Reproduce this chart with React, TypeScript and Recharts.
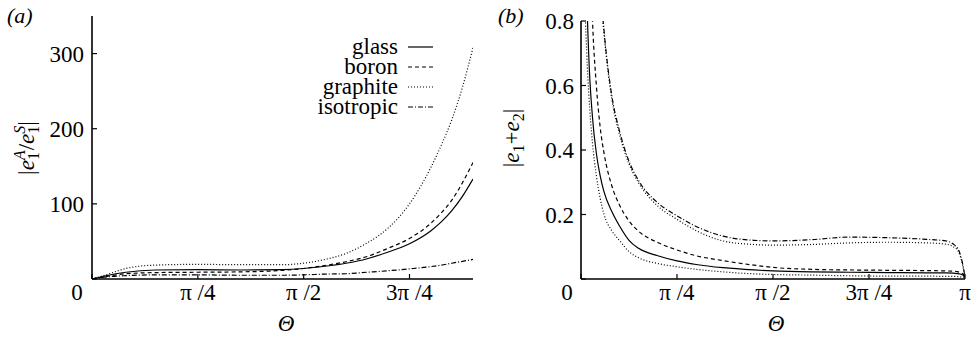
import React from 'react';
import { LineChart, Line, XAxis, YAxis } from 'recharts';

const FONT = 'Times New Roman, Liberation Serif, serif';
const FS = 23;

// Θ is given in units of π
const thetaA = [0, 0.03, 0.08, 0.15, 0.25, 0.35, 0.45, 0.5, 0.55, 0.6, 0.65, 0.7, 0.75, 0.8, 0.825, 0.85, 0.875, 0.9];
const glassA = [0, 4, 9, 12, 12.5, 12, 12.5, 14, 17, 21, 27, 36, 47, 64, 76, 91, 110, 133];
const boronA = [0, 3, 7, 8.5, 9, 9.5, 11.5, 14, 18, 23, 30, 41, 54, 74, 88, 105, 128, 155];
const graphiteA = [0, 5, 14, 18.5, 19.5, 19, 19, 21, 26, 34, 48, 68, 100, 148, 178, 212, 255, 308];
const isotropicA = [0, 2.5, 4.5, 5.5, 5.5, 5, 5, 5.5, 6.5, 7, 9, 11, 13.5, 16.5, 18.5, 21, 23.5, 26];

const thetaB = [0.005, 0.01, 0.015, 0.02, 0.03, 0.04, 0.05, 0.06, 0.08, 0.1, 0.125, 0.15, 0.2, 0.25, 0.3, 0.37, 0.45, 0.5, 0.6, 0.7, 0.8, 0.9, 0.95, 0.97, 0.985, 0.995, 1.0];
const glassB = [3, 1.4, 0.9, 0.7, 0.5, 0.39, 0.32, 0.27, 0.21, 0.165, 0.12, 0.095, 0.072, 0.056, 0.045, 0.035, 0.028, 0.025, 0.022, 0.021, 0.02, 0.019, 0.019, 0.018, 0.016, 0.012, 0.006];
const boronB = [4.5, 2.3, 1.55, 1.2, 0.8, 0.6, 0.47, 0.39, 0.29, 0.23, 0.18, 0.148, 0.113, 0.09, 0.072, 0.057, 0.043, 0.036, 0.03, 0.028, 0.027, 0.026, 0.025, 0.024, 0.021, 0.015, 0.006];
const graphiteB = [1.8, 0.9, 0.7, 0.58, 0.42, 0.32, 0.25, 0.2, 0.15, 0.12, 0.085, 0.066, 0.048, 0.038, 0.03, 0.022, 0.016, 0.014, 0.012, 0.01, 0.009, 0.009, 0.008, 0.008, 0.007, 0.006, 0.004];
const isotropicB = [8, 4.5, 3, 2.3, 1.5, 1.15, 0.92, 0.77, 0.57, 0.46, 0.365, 0.305, 0.236, 0.196, 0.163, 0.133, 0.12, 0.118, 0.122, 0.13, 0.128, 0.123, 0.118, 0.108, 0.085, 0.04, 0.005];
const dottedUpperB = [7.9, 4.45, 2.95, 2.27, 1.48, 1.13, 0.9, 0.76, 0.56, 0.45, 0.357, 0.298, 0.226, 0.185, 0.15, 0.118, 0.107, 0.105, 0.107, 0.112, 0.114, 0.112, 0.108, 0.1, 0.08, 0.036, 0.004];

const xTicksA = [0, 0.25, 0.5, 0.75];
const xLabelsA = ['0', 'π /4', 'π /2', '3π /4'];
const xTicksB = [0, 0.25, 0.5, 0.75, 1];
const xLabelsB = ['0', 'π /4', 'π /2', '3π /4', 'π'];
const yTicksA = [0, 100, 200, 300];
const yTicksB = [0, 0.2, 0.4, 0.6, 0.8];

const legendNames = ['glass', 'boron', 'graphite', 'isotropic'];

const rowsA = thetaA.map((t, i) => ({
  t,
  glass: glassA[i],
  boron: boronA[i],
  graphite: graphiteA[i],
  isotropic: isotropicA[i],
}));

const rowsB = thetaB.map((t, i) => ({
  t,
  glass: glassB[i],
  boron: boronB[i],
  graphite: graphiteB[i],
  isotropic: isotropicB[i],
  upper: dottedUpperB[i],
}));

const DASH: Record<string, string | undefined> = {
  glass: undefined,
  boron: '4 3',
  graphite: '1 2',
  isotropic: '5 2 1 2',
  upper: '1 2',
};

const txtStyle = { fontFamily: FONT, fontSize: FS, fill: '#000' };
const italic = { ...txtStyle, fontStyle: 'italic' as const };

const makeXTick = (ticks: number[], labels: string[], zeroShift: number) => (props: any) => {
  const { x, y, payload } = props;
  const i = ticks.indexOf(payload.value);
  const label = i >= 0 ? labels[i] : '';
  return (
    <text x={payload.value === 0 ? x + zeroShift : x} y={y + 16} textAnchor="middle" style={txtStyle}>
      {label}
    </text>
  );
};

const makeYTick = (fmt: (v: number) => string) => (props: any) => {
  const { x, y, payload } = props;
  if (payload.value === 0) return <g />;
  return (
    <text x={x} y={y + 8} textAnchor="end" style={txtStyle}>
      {fmt(payload.value)}
    </text>
  );
};

const axisLine = { stroke: '#000', strokeWidth: 1.6 };
const tickLine = { stroke: '#000', strokeWidth: 1.2 };

const series = (keys: string[]) =>
  keys.map((k) => (
    <Line
      key={k}
      dataKey={k}
      type="monotone"
      stroke="#000"
      strokeWidth={1.2}
      strokeDasharray={DASH[k]}
      dot={false}
      activeDot={false}
      isAnimationActive={false}
    />
  ));

const frameAxes = (xDomain: number[], xTicks: number[], yDomain: number[], yTicks: number[]) => [
  <XAxis
    key="xt"
    xAxisId="top"
    orientation="top"
    type="number"
    domain={xDomain}
    ticks={xTicks}
    height={0}
    tick={false}
    tickSize={-5}
    axisLine={axisLine}
    tickLine={tickLine}
    allowDataOverflow
  />,
  <YAxis
    key="yr"
    yAxisId="right"
    orientation="right"
    type="number"
    domain={yDomain}
    ticks={yTicks}
    width={0}
    tick={false}
    tickSize={-5}
    axisLine={axisLine}
    tickLine={tickLine}
    allowDataOverflow
  />,
];

const PanelA = () => (
  <LineChart width={490} height={337} data={rowsA} margin={{ top: 16, right: 17, bottom: 0, left: 0 }}>
    <XAxis
      dataKey="t"
      type="number"
      domain={[0, 0.9]}
      ticks={xTicksA}
      interval={0}
      height={58}
      tickSize={-5}
      tickMargin={10}
      axisLine={axisLine}
      tickLine={tickLine}
      tick={makeXTick(xTicksA, xLabelsA, -15)}
      allowDataOverflow
    />
    <YAxis
      type="number"
      domain={[0, 350]}
      ticks={yTicksA}
      interval={0}
      width={92}
      tickSize={-5}
      tickMargin={13}
      axisLine={axisLine}
      tickLine={tickLine}
      tick={makeYTick((v) => String(v))}
      allowDataOverflow
    />
    {frameAxes([0, 0.9], xTicksA, [0, 350], yTicksA)}
    {series(['glass', 'boron', 'graphite', 'isotropic'])}
  </LineChart>
);

const PanelB = () => (
  <LineChart width={489} height={337} data={rowsB} margin={{ top: 21, right: 14, bottom: 0, left: 0 }}>
    <XAxis
      dataKey="t"
      type="number"
      domain={[0, 1]}
      ticks={xTicksB}
      interval={0}
      height={58}
      tickSize={-5}
      tickMargin={10}
      axisLine={axisLine}
      tickLine={tickLine}
      tick={makeXTick(xTicksB, xLabelsB, -14)}
      allowDataOverflow
    />
    <YAxis
      type="number"
      domain={[0, 0.8]}
      ticks={yTicksB}
      interval={0}
      width={91}
      tickSize={-5}
      tickMargin={12}
      axisLine={axisLine}
      tickLine={tickLine}
      tick={makeYTick((v) => v.toFixed(1))}
      allowDataOverflow
    />
    {frameAxes([0, 1], xTicksB, [0, 0.8], yTicksB)}
    {series(['glass', 'boron', 'graphite', 'isotropic', 'upper'])}
  </LineChart>
);

// titles, panel letters and legend, laid over the two charts
const Overlay = () => (
  <svg width={979} height={337} style={{ position: 'absolute', left: 0, top: 0, pointerEvents: 'none' }}>
    {legendNames.map((n, i) => (
      <g key={n}>
        <text x={398} y={53.5 + i * 20} textAnchor="end" style={txtStyle}>
          {n}
        </text>
        <line
          x1={408}
          x2={433}
          y1={47 + i * 20}
          y2={47 + i * 20}
          stroke="#000"
          strokeWidth={1.2}
          strokeDasharray={DASH[n]}
        />
      </g>
    ))}
    <text x={7} y={23} style={{ ...italic, fontSize: 22 }}>
      (a)
    </text>
    <text x={498} y={23} style={{ ...italic, fontSize: 22 }}>
      (b)
    </text>
    <text x={286} y={331} textAnchor="middle" style={italic}>
      Θ
    </text>
    <text x={776} y={331} textAnchor="middle" style={italic}>
      Θ
    </text>
    <text transform="rotate(-90)" x={-148} y={34} textAnchor="middle" style={txtStyle}>
      |<tspan fontStyle="italic">e</tspan>
      <tspan fontSize={16} dy={5}>1</tspan>
      <tspan fontSize={16} dx={-8} dy={-14} fontStyle="italic">A</tspan>
      <tspan dy={9}>/</tspan>
      <tspan fontStyle="italic">e</tspan>
      <tspan fontSize={16} dy={5}>1</tspan>
      <tspan fontSize={16} dx={-8} dy={-14} fontStyle="italic">S</tspan>
      <tspan dy={9}>|</tspan>
    </text>
    <text transform="rotate(-90)" x={-138} y={519} textAnchor="middle" style={txtStyle}>
      |<tspan fontStyle="italic">e</tspan>
      <tspan fontSize={16} dy={5}>1</tspan>
      <tspan dy={-5}>+</tspan>
      <tspan fontStyle="italic">e</tspan>
      <tspan fontSize={16} dy={5}>2</tspan>
      <tspan dy={-5}>|</tspan>
    </text>
  </svg>
);

export default function App() {
  return (
    <div style={{ position: 'absolute', left: 0, top: 0, width: 979, height: 337, background: '#fff' }}>
      <div style={{ position: 'absolute', left: 0, top: 0 }}>
        <PanelA />
      </div>
      <div style={{ position: 'absolute', left: 490, top: 0 }}>
        <PanelB />
      </div>
      <Overlay />
    </div>
  );
}
